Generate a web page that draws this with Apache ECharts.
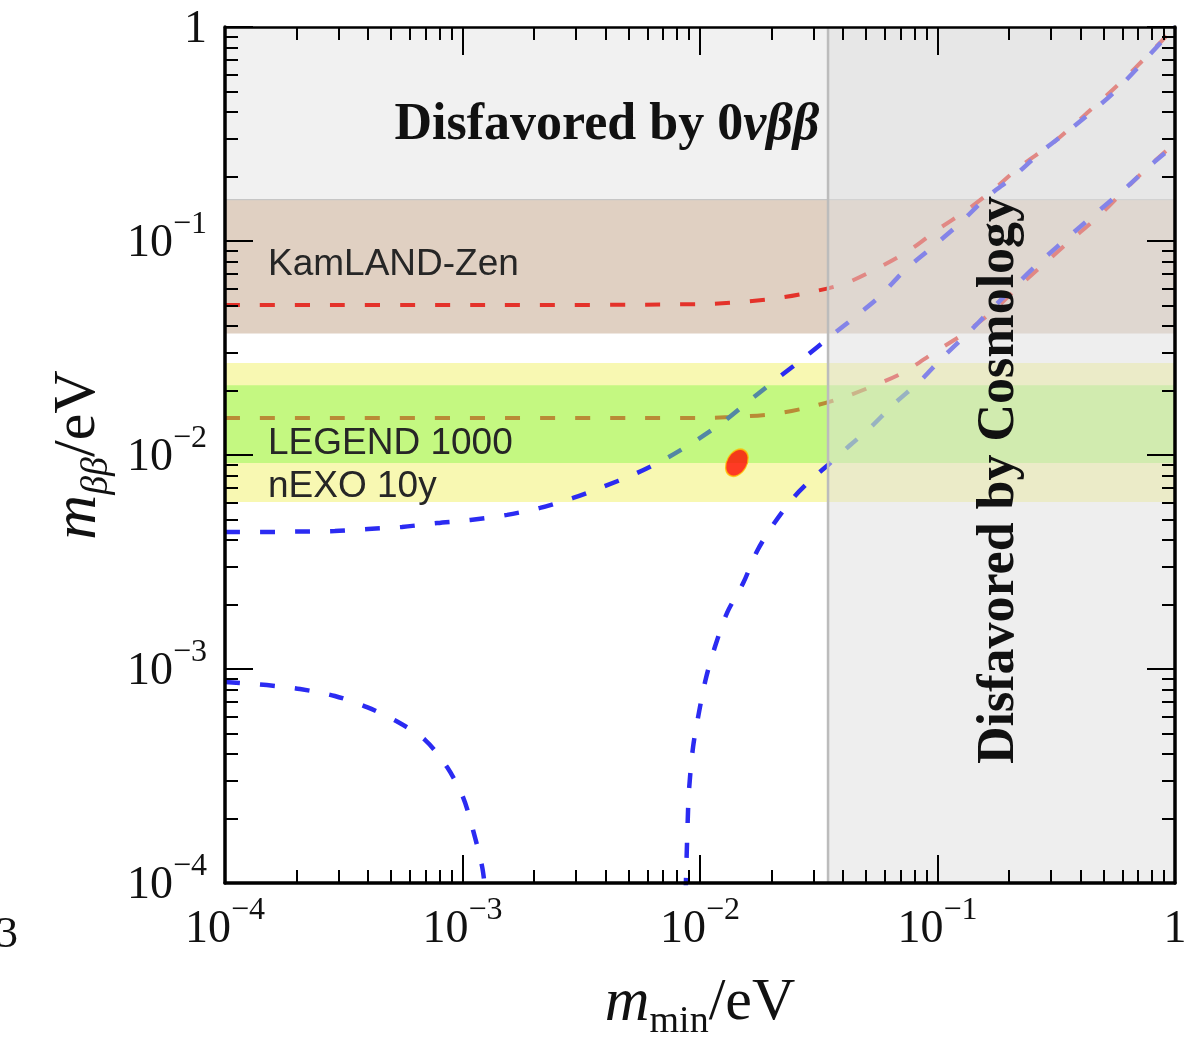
<!DOCTYPE html>
<html>
<head>
<meta charset="utf-8">
<script src="https://cdn.jsdelivr.net/npm/echarts@6/dist/echarts.min.js"></script>
<style>
  html, body { margin: 0; padding: 0; background: #fff; }
  #chart { width: 1191px; height: 1038px; }
</style>
</head>
<body>
<div id="chart"></div>
<script>
// curves, [m_min (eV), m_bb (eV)]
const noUpper = [
  [1e-4, 0.00437], [1.5e-4, 0.00437], [2.07e-4, 0.00439], [2.9e-4, 0.00441], [4.0e-4, 0.00451],
  [5.56e-4, 0.00461], [7.82e-4, 0.00481], [1.08e-3, 0.00497], [1.54e-3, 0.00525], [2.12e-3, 0.00566],
  [2.92e-3, 0.0063], [3.79e-3, 0.00701], [5.43e-3, 0.00824], [7.26e-3, 0.00968], [9.7e-3, 0.01175],
  [0.0125, 0.01426], [0.0163, 0.0181], [0.0213, 0.0229], [0.0277, 0.0287], [0.0352, 0.0356],
  [0.0454, 0.0446], [0.0573, 0.0553], [0.0723, 0.0724], [0.094, 0.0927], [0.1233, 0.12],
  [0.16, 0.159], [0.21, 0.201], [0.27, 0.258], [0.372, 0.341], [0.548, 0.49], [0.785, 0.745], [1, 1]
]
const noLowerLeft = [
  [1e-4, 8.7e-4], [1.5e-4, 8.41e-4], [2.07e-4, 8.06e-4], [2.9e-4, 7.48e-4], [3.96e-4, 6.64e-4],
  [5.35e-4, 5.65e-4], [6.95e-4, 4.66e-4], [8.61e-4, 3.48e-4], [1.005e-3, 2.52e-4], [1.107e-3, 1.77e-4],
  [1.21e-3, 1.19e-4], [1.25e-3, 9e-5]
]
const noLowerRight = [
  [8.7e-3, 9e-5], [8.86e-3, 1.83e-4], [8.99e-3, 2.72e-4], [9.35e-3, 4.32e-4], [9.91e-3, 6.3e-4],
  [0.0106, 9.08e-4], [0.01156, 1.27e-3], [0.013, 1.83e-3], [0.0152, 2.52e-3], [0.0174, 3.56e-3],
  [0.0203, 4.71e-3], [0.0247, 6.3e-3], [0.0299, 7.81e-3], [0.0346, 8.98e-3], [0.0428, 0.0111],
  [0.052, 0.0134], [0.0656, 0.0173], [0.0853, 0.0224], [0.1045, 0.0284], [0.132, 0.0364],
  [0.166, 0.0471], [0.21, 0.061], [0.27, 0.0798], [0.372, 0.109], [0.483, 0.14], [0.628, 0.179],
  [0.807, 0.231], [1, 0.281]
]
const ioUpper = [
  [1e-4, 0.0502], [1.44e-3, 0.0502], [0.01, 0.0507], [0.0147, 0.0518], [0.0217, 0.0543],
  [0.0296, 0.0578], [0.0412, 0.0636], [0.0561, 0.0748], [0.0765, 0.0908], [0.0995, 0.1125],
  [0.133, 0.1396], [0.171, 0.173], [0.222, 0.222], [0.306, 0.287], [0.426, 0.396],
  [0.586, 0.547], [0.785, 0.756], [1, 1]
]
const ioLower = [
  [1e-4, 0.0149], [0.01, 0.0149], [0.01626, 0.0152], [0.02173, 0.0157], [0.02992, 0.0169],
  [0.03963, 0.0185], [0.05346, 0.021], [0.07228, 0.0244], [0.0975, 0.0303], [0.1268, 0.0364],
  [0.1714, 0.0471], [0.2163, 0.0603], [0.2838, 0.0789], [0.3681, 0.102], [0.4645, 0.127],
  [0.5861, 0.164], [0.7396, 0.212], [0.9247, 0.266], [1, 0.284]
]
const bestFit = [[0.0143, 0.0092]]

// shaded regions: [m_min from, m_min to, m_bb from, m_bb to]
const xMin = 1e-4
const xMax = 1
const excluded0vbb = [xMin, xMax, 0.155, 1]
const kamland = [xMin, xMax, 0.037, 0.155]
const nexo = [xMin, xMax, 0.00603, 0.0269]
const legend = [xMin, xMax, 0.00918, 0.0212]
const cosmology = [0.0346, xMax, 1e-4, 1]

const serif = 'Liberation Serif'
const tickRich = {
  b: { fontSize: 46, fontFamily: serif, color: '#111', lineHeight: 58, verticalAlign: 'bottom' },
  s: { fontSize: 32, fontFamily: serif, color: '#111', lineHeight: 32, verticalAlign: 'top' },
}
function decadeLabel(v) {
  const e = Math.round(Math.log10(v))
  return e === 0 ? '{b|1}' : '{b|10}{s|−' + (-e) + '}'
}

function region(name, range, fill, z, edge) {
  return {
    name, type: 'custom', z, silent: true, clip: true,
    data: [range],
    encode: { x: [0, 1], y: [2, 3] },
    renderItem(params, api) {
      const a = api.coord([api.value(0), api.value(3)])
      const b = api.coord([api.value(1), api.value(2)])
      const children = [{
        type: 'rect',
        shape: { x: a[0], y: a[1], width: b[0] - a[0], height: b[1] - a[1] },
        style: { fill },
      }]
      if (edge === 'bottom') {
        children.push({ type: 'line', shape: { x1: a[0], y1: b[1], x2: b[0], y2: b[1] },
          style: { stroke: '#c6c6c6', lineWidth: 2.5 } })
      }
      if (edge === 'left') {
        children.push({ type: 'line', shape: { x1: a[0], y1: a[1], x2: a[0], y2: b[1] },
          style: { stroke: '#bcbcbc', lineWidth: 2.5 } })
      }
      return { type: 'group', children }
    },
  }
}

function curve(name, data, color, width) {
  return {
    name, type: 'line', data, z: 3, showSymbol: false, smooth: 0.3, clip: true,
    lineStyle: { color, width, type: [15, 20] },
  }
}

function logAxis(position, withLabels) {
  const horizontal = position === 'bottom' || position === 'top'
  return {
    type: 'log', logBase: 10, min: 1e-4, max: 1, position, z: 10,
    axisLine: { lineStyle: { color: '#000', width: position === 'top' ? 2.5 : 3.5 } },
    axisTick: { inside: true, length: 28, lineStyle: { color: '#000', width: 2 } },
    minorTick: { show: true, splitNumber: 9, length: 13, lineStyle: { color: '#000', width: 2 } },
    splitLine: { show: false },
    minorSplitLine: { show: false },
    axisLabel: withLabels
      ? { formatter: decadeLabel, rich: tickRich, margin: horizontal ? 12 : 18, padding: [0, 0, 7, 0] }
      : { show: false },
  }
}

const nameRich = {
  m: { fontSize: 62, fontFamily: serif, fontStyle: 'italic', color: '#111', lineHeight: 68, verticalAlign: 'top' },
  sub: { fontSize: 38, fontFamily: serif, color: '#111', lineHeight: 68, verticalAlign: 'bottom' },
  subi: { fontSize: 38, fontFamily: serif, fontStyle: 'italic', color: '#111', lineHeight: 68, verticalAlign: 'bottom' },
  r: { fontSize: 60, fontFamily: serif, color: '#111', lineHeight: 68, verticalAlign: 'top' },
}

const chart = echarts.init(document.getElementById('chart'))

const xBottom = logAxis('bottom', true)
xBottom.name = '{m|m}{sub|min}{r|/eV}'
xBottom.nameLocation = 'middle'
xBottom.nameGap = 90
xBottom.nameTextStyle = { rich: nameRich }

const yLeft = logAxis('left', true)
yLeft.name = '{m|m}{subi|ββ}{r|/eV}'
yLeft.nameLocation = 'middle'
yLeft.nameGap = 105
yLeft.nameTextStyle = { rich: nameRich }

const bandText = { font: '37px "Liberation Sans"', fill: '#262626', align: 'left', verticalAlign: 'middle' }

chart.setOption({
  animation: false,
  backgroundColor: '#fff',
  grid: { left: 225, right: 16, top: 27, bottom: 155, outerBoundsMode: 'none', containLabel: false },
  xAxis: [xBottom, logAxis('top', false)],
  yAxis: [yLeft, logAxis('right', false)],
  series: [
    region('Disfavored by 0νββ', excluded0vbb, '#f1f1f1', 1, 'bottom'),
    region('KamLAND-Zen', kamland, '#e0d0c2', 1),
    region('nEXO 10y', nexo, '#f8f8b2', 1),
    curve('IO upper', ioUpper, '#e4322a', 4),
    curve('IO lower', ioLower, '#e4322a', 4),
    curve('NO upper', noUpper, '#2b2bf2', 4.5),
    curve('NO lower', noLowerLeft, '#2b2bf2', 4.5),
    curve('NO lower', noLowerRight, '#2b2bf2', 4.5),
    region('LEGEND 1000', legend, 'rgba(132,248,69,0.45)', 4),
    region('Disfavored by Cosmology', cosmology, 'rgba(222,222,222,0.5)', 5, 'left'),
    {
      name: 'best fit', type: 'scatter', z: 6, data: bestFit,
      symbol: 'circle', symbolSize: [20, 29], symbolRotate: -30,
      itemStyle: { color: '#ff0a00', borderColor: '#ffc000', borderWidth: 1.5 },
    },
  ],
  graphic: [
    {
      type: 'text', x: 607, y: 126, z: 100,
      style: {
        text: '{a|Disfavored by 0}{g|νββ}',
        rich: {
          a: { font: 'bold 52px "Liberation Serif"', fill: '#111' },
          g: { font: 'italic bold 52px "Liberation Serif"', fill: '#111' },
        },
        align: 'center', verticalAlign: 'middle',
      },
    },
    {
      type: 'text', x: 1000, y: 480, rotation: Math.PI / 2, z: 100,
      style: { text: 'Disfavored by Cosmology', font: 'bold 52px "Liberation Serif"', fill: '#111',
        align: 'center', verticalAlign: 'middle' },
    },
    { type: 'text', x: 268, y: 265, z: 100, style: Object.assign({ text: 'KamLAND-Zen' }, bandText) },
    { type: 'text', x: 268, y: 444, z: 100, style: Object.assign({ text: 'LEGEND 1000' }, bandText) },
    { type: 'text', x: 268, y: 487, z: 100, style: Object.assign({ text: 'nEXO 10y' }, bandText) },
    { type: 'text', x: -4, y: 935, z: 100,
      style: { text: '3', font: '44px "Liberation Serif"', fill: '#111', align: 'left', verticalAlign: 'middle' } },
  ],
})
</script>
</body>
</html>
